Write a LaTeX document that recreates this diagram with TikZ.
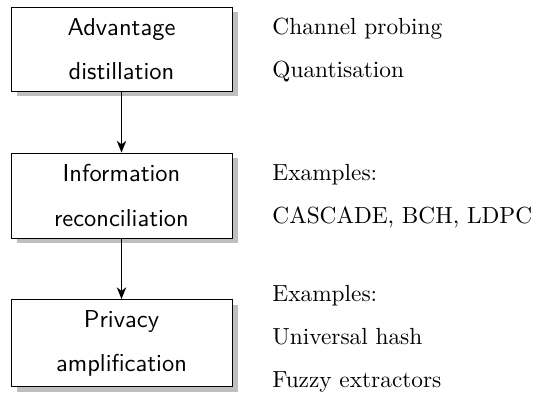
\documentclass[tikz,border=0pt]{standalone}
\usetikzlibrary{shadows,arrows.meta}
\begin{document}
\begin{tikzpicture}[x=0.429pt,y=-0.429pt,
  stagebox/.style={draw=black, line width=0.4pt, fill=white, minimum width=221*0.429pt,
    align=center, inner sep=0pt,
    font=\fontsize{10.5}{18.9}\selectfont\sffamily,
    drop shadow={shadow xshift=6*0.429pt, shadow yshift=-5*0.429pt, fill=black!25, opacity=1}},
  notes/.style={anchor=west, align=left, inner sep=0pt,
    font=\fontsize{10}{18.5}\selectfont\rmfamily},
  flow/.style={line width=0.65pt, -{Stealth[length=5pt,width=4pt,inset=1.5pt]}}]
\useasboundingbox (0,0) rectangle (537,401);
\node[stagebox, minimum height=84*0.429pt] (ad) at (121.5,49) {Advantage\\distillation};
\node[stagebox, minimum height=85*0.429pt] (ir) at (121.5,195.5) {Information\\reconciliation};
\node[stagebox, minimum height=87*0.429pt] (pa) at (121.5,343) {Privacy\\amplification};
\draw[flow] (ad) -- (ir);
\draw[flow] (ir) -- (pa);
\node[notes] (n1) at (272,50) {Channel probing\\Quantisation};
\node[notes] (n2) at (272,196) {Examples:\\CASCADE, BCH, LDPC};
\node[notes] (n3) at (272,339) {Examples:\\Universal hash\\Fuzzy extractors};
\end{tikzpicture}
\end{document}
